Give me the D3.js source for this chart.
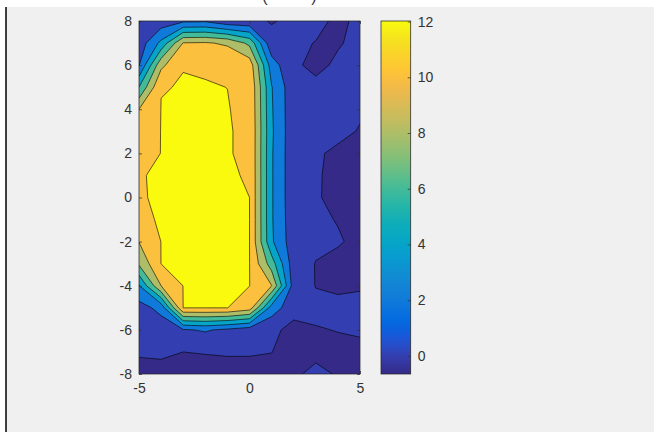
<!DOCTYPE html>
<html>
<head>
<meta charset="utf-8">
<script src="https://cdn.jsdelivr.net/npm/d3@7"></script>
<style>
  html, body { margin: 0; padding: 0; background: #fff; }
  svg { display: block; }
  text { font-family: "Liberation Sans", Arial, sans-serif; }
</style>
</head>
<body>
<svg id="chart" width="654" height="432"></svg>
<script>
// grid the surface was sampled on
const xValues = [-5, -4, -3, -2, -1, 0, 1, 2, 3, 4, 5];
const yValues = [8, 7, 6, 5, 4, 3, 2, 1, 0, -1, -2, -3, -4, -5, -6, -7, -8];

// z values, one row per y (top row is y = 8), columns x = -5 .. 5
const zRows = [
  [0.3, 0.8, 1.6, 1.7, 0.5, 0.4, -0.1, 0.3, 0.4, -0.3, 0.3],
  [0.8, 4.5, 10.1, 10.2, 9.7, 7.5, 0.5, 0.3, -0.05, -0.1, 0.3],
  [1.9, 9.5, 11.99, 11.963, 11.9, 11.2, 3.0, 0.2, -0.3, 0.2, 0.4],
  [6.0, 11.98, 12.02, 12.02, 11.998, 11.8, 4.1, 0.6, 0.3, 0.4, 0.4],
  [10.0, 12.02, 12.02, 12.02, 12.02, 11.87, 4.2, 0.6, 0.4, 0.3, 0.1],
  [11.2, 12.02, 12.02, 12.02, 12.02, 11.94, 4.3, 0.6, 0.3, 0.2, -0.05],
  [11.7, 12.01, 12.02, 12.02, 12.02, 11.94, 4.2, 0.6, 0.1, -0.15, -0.2],
  [11.99, 12.02, 12.02, 12.02, 12.02, 11.985, 4.2, 0.6, 0.12, -0.3, -0.3],
  [11.987, 12.02, 12.02, 12.02, 12.02, 12.0, 4.2, 0.6, 0.15, -0.42, -0.3],
  [11.953, 12.02, 12.02, 12.02, 12.02, 12.01, 4.2, 0.7, 0.2, -0.05, -0.3],
  [10.05, 12.02, 12.02, 12.02, 12.02, 12.0, 4.3, 0.8, 0.3, 0.1, -0.25],
  [8.3, 12.02, 12.02, 12.02, 12.02, 12.02, 7.0, 0.8, -0.05, -0.3, -0.2],
  [3.9, 10.0, 12.02, 12.02, 12.02, 12.02, 10.05, 1.0, -0.05, -0.2, -0.1],
  [1.2, 2.6, 12.02, 12.02, 12.02, 11.0, 3.0, 0.8, 0.4, 0.3, 0.3],
  [0.8, 0.9, 1.8, 2.2, 1.6, 0.9, 0.5, -0.65, -0.1, 0.05, 0.2],
  [0.1, 0.15, 0.0, 0.05, 0.1, 0.1, 0.02, -0.5, -0.3, -0.4, -0.4],
  [-0.3, -0.3, -0.3, -0.4, -0.4, -0.4, -0.4, -0.2, 0.3, -0.1, -0.3]
];

const levels = [0, 2, 4, 6, 8, 10, 12];
const xTicks = [-5, 0, 5];
const yTicks = [-8, -6, -4, -2, 0, 2, 4, 6, 8];
const barTicks = [0, 2, 4, 6, 8, 10, 12];

// parula colormap, every third entry
const parula = ["#352a87", "#353dad", "#2053d4", "#0268e1", "#0d75dc", "#1481d6",
  "#108ed2", "#079ccf", "#06a7c6", "#0faeb9", "#25b5a9", "#42bb98", "#65be86",
  "#87bf77", "#a5be6b", "#c0bc60", "#d9ba56", "#f1b94a", "#ffc337", "#fad32a",
  "#f5e41d", "#f9fb0e"];

const svg = d3.select("#chart");
const axisColor = "#333";

// figure background
svg.append("rect").attr("width", 654).attr("height", 432).attr("fill", "#fff");
svg.append("rect").attr("x", 6).attr("y", 7).attr("width", 648).attr("height", 425).attr("fill", "#f0f0f0");
svg.append("line").attr("x1", 6).attr("x2", 6).attr("y1", 7).attr("y2", 432)
  .attr("stroke", "#000").attr("stroke-width", 1.5);

// bits of the clipped title
svg.append("text").attr("y", 1.5).attr("font-size", 16).attr("fill", axisColor)
  .attr("text-anchor", "middle")
  .selectAll("tspan").data([["(", 265], [")", 314]]).join("tspan")
  .attr("x", d => d[1]).text(d => d[0]);

const x = d3.scaleLinear().domain([-5, 5]).range([139, 360]);
const y = d3.scaleLinear().domain([-8, 8]).range([374, 21]);

const nx = xValues.length, ny = yValues.length;
const flat = zRows.flat();
const [zMin, zMax] = d3.extent(flat);

const color = d3.scaleLinear()
  .domain(d3.range(parula.length).map(i => zMin + (zMax - zMin) * i / (parula.length - 1)))
  .range(parula)
  .interpolate(d3.interpolateRgb)
  .clamp(true);

// d3.contours puts sample i at grid coordinate i + 0.5
const gx = d3.scaleLinear().domain([0.5, nx - 0.5]).range([xValues[0], xValues[nx - 1]]);
const gy = d3.scaleLinear().domain([0.5, ny - 0.5]).range([yValues[0], yValues[ny - 1]]);
const path = d3.geoPath(d3.geoTransform({
  point(px, py) { this.stream.point(x(gx(px)), y(gy(py))); }
}));

const contours = d3.contours().size([nx, ny]).thresholds(levels)(flat);

svg.append("clipPath").attr("id", "plot-clip")
  .append("rect").attr("x", x(-5)).attr("y", y(8))
  .attr("width", x(5) - x(-5)).attr("height", y(-8) - y(8));

const plot = svg.append("g").attr("clip-path", "url(#plot-clip)");
plot.append("rect").attr("x", x(-5)).attr("y", y(8))
  .attr("width", x(5) - x(-5)).attr("height", y(-8) - y(8))
  .attr("fill", color(zMin));

plot.selectAll("path.band").data(contours).join("path")
  .attr("class", "band")
  .attr("d", path)
  .attr("fill", d => color(d.value))
  .attr("fill-rule", "evenodd")
  .attr("stroke", "#000")
  .attr("stroke-width", 0.6)
  .attr("stroke-linejoin", "round");

// axes box and ticks (inward, like MATLAB)
function styleAxis(g) {
  g.select(".domain").remove();
  g.selectAll(".tick line").attr("stroke", axisColor).attr("stroke-width", 0.75);
  g.selectAll(".tick text").attr("fill", axisColor).attr("font-size", 14)
    .attr("font-family", "Liberation Sans, Arial, sans-serif");
}
const fmt = d => String(d);

svg.append("g").attr("transform", `translate(0,${y(-8)})`)
  .call(d3.axisBottom(x).tickValues(xTicks).tickSize(-3).tickPadding(9).tickFormat(fmt))
  .call(styleAxis);
svg.append("g").attr("transform", `translate(0,${y(8)})`)
  .call(d3.axisTop(x).tickValues(xTicks).tickSize(-3).tickFormat(""))
  .call(styleAxis);
svg.append("g").attr("transform", `translate(${x(-5)},0)`)
  .call(d3.axisLeft(y).tickValues(yTicks).tickSize(-3).tickPadding(7).tickFormat(fmt))
  .call(styleAxis);
svg.append("g").attr("transform", `translate(${x(5)},0)`)
  .call(d3.axisRight(y).tickValues(yTicks).tickSize(-3).tickFormat(""))
  .call(styleAxis);

svg.append("rect").attr("x", x(-5)).attr("y", y(8))
  .attr("width", x(5) - x(-5)).attr("height", y(-8) - y(8))
  .attr("fill", "none").attr("stroke", "#262626").attr("stroke-width", 0.75);

// colorbar
const bar = { x: 381, w: 29.7 };
const cb = d3.scaleLinear().domain([zMin, zMax]).range([374, 21]);

const grad = svg.append("defs").append("linearGradient").attr("id", "cbar-grad")
  .attr("x1", 0).attr("y1", 1).attr("x2", 0).attr("y2", 0);
grad.selectAll("stop").data(d3.range(41)).join("stop")
  .attr("offset", i => i / 40)
  .attr("stop-color", i => color(zMin + (zMax - zMin) * i / 40));

svg.append("rect").attr("x", bar.x).attr("y", cb(zMax))
  .attr("width", bar.w).attr("height", cb(zMin) - cb(zMax))
  .attr("fill", "url(#cbar-grad)")
  .attr("stroke", "#262626").attr("stroke-width", 0.75);

svg.append("g").attr("transform", `translate(${bar.x + bar.w},0)`)
  .call(d3.axisRight(cb).tickValues(barTicks).tickSize(-3).tickPadding(7).tickFormat(fmt))
  .call(styleAxis);
</script>
</body>
</html>
